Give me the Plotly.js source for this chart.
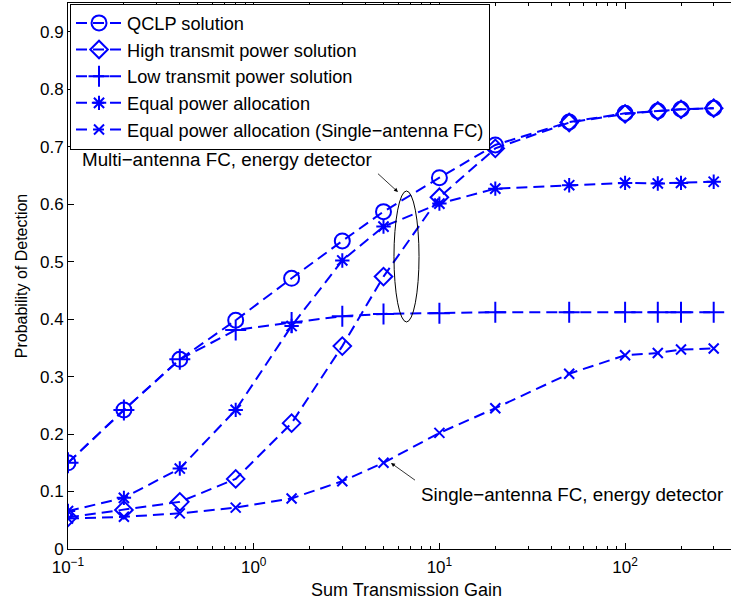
<!DOCTYPE html>
<html>
<head>
<meta charset="utf-8">
<script src="https://cdn.plot.ly/plotly-3.0.1.min.js"></script>
<style>
html,body{margin:0;padding:0;overflow:hidden;background:#fff;}
#chart{width:745px;height:604px;}
</style>
</head>
<body>
<div id="chart"></div>
<script>
// ---- data ----
const gain = [0.1, 0.2, 0.4, 0.8, 1.6, 3, 5, 10, 20, 50, 100, 150, 200, 300];
const qclp = [0.150, 0.242, 0.330, 0.398, 0.471, 0.536, 0.587, 0.646, 0.703, 0.743, 0.758, 0.762, 0.765, 0.767];
const highPower = [0.055, 0.068, 0.082, 0.122, 0.219, 0.353, 0.474, 0.612, 0.697, 0.742, 0.757, 0.762, 0.765, 0.767];
const lowPower = [0.150, 0.242, 0.330, 0.381, 0.394, 0.405, 0.409, 0.410, 0.412, 0.412, 0.412, 0.412, 0.412, 0.412];
const equalPower = [0.066, 0.089, 0.140, 0.242, 0.388, 0.502, 0.561, 0.601, 0.627, 0.633, 0.637, 0.636, 0.637, 0.639];
const equalSingle = [0.053, 0.056, 0.062, 0.072, 0.088, 0.118, 0.150, 0.202, 0.245, 0.305, 0.337, 0.341, 0.347, 0.349];

const seriesNames = [
  'QCLP solution',
  'High transmit power solution',
  'Low transmit power solution',
  'Equal power allocation',
  'Equal power allocation (Single\u2212antenna FC)'
];
const xTickVals = [0.1, 1, 10, 100];
const xTickText = ['10<sup>\u22121</sup>', '10<sup>0</sup>', '10<sup>1</sup>', '10<sup>2</sup>'];
const xTitle = 'Sum Transmission Gain';
const yTitle = 'Probability of Detection';
const note1 = 'Multi\u2212antenna FC, energy detector';
const note2 = 'Single\u2212antenna FC, energy detector';

// ---- styling ----
const BLUE = '#0000ff';
const FONT = 'Liberation Sans, Arial, Helvetica, sans-serif';
const dashPat = '11px,6px';
function tr(y, name, sym, size) {
  return {
    x: gain, y: y, name: name, type: 'scatter', mode: 'lines+markers',
    line: {color: BLUE, width: 2, dash: dashPat},
    marker: {symbol: sym, size: size, color: BLUE, line: {color: BLUE, width: 2}}
  };
}
const data = [
  tr(qclp, seriesNames[0], 'circle-open', 15),
  tr(highPower, seriesNames[1], 'diamond-open', 13.5),
  tr(lowPower, seriesNames[2], 'cross-thin-open', 15),
  tr(equalPower, seriesNames[3], 'asterisk-open', 12),
  tr(equalSingle, seriesNames[4], 'x-thin-open', 10)
];

// minor tick positions (2..9 within each decade)
const minorVals = [];
[0.1, 1, 10, 100].forEach(d => { for (let k = 2; k <= 9; k++) minorVals.push(d * k); });

const layout = {
  width: 745, height: 604,
  margin: {l: 68, r: 0, t: 3, b: 55},
  paper_bgcolor: '#fff', plot_bgcolor: '#fff',
  font: {family: FONT, color: '#000', size: 17},
  showlegend: true,
  legend: {
    x: 0.003, y: 0.999, xanchor: 'left', yanchor: 'top',
    bgcolor: '#fff', bordercolor: '#000', borderwidth: 1,
    font: {family: FONT, size: 18.2, color: '#000'},
    itemwidth: 46, tracegroupgap: 0
  },
  xaxis: {
    type: 'log', range: [-1, 2.6457],
    tickmode: 'array', tickvals: xTickVals, ticktext: xTickText,
    ticks: 'inside', ticklen: 6, tickcolor: '#000', tickwidth: 1,
    ticklabelstandoff: 3,
    showline: true, linecolor: '#000', linewidth: 1, mirror: 'ticks',
    showgrid: false, zeroline: false,
    tickfont: {family: FONT, size: 17, color: '#000'},
    minor: {tickmode: 'array', tickvals: minorVals, ticks: 'inside', ticklen: 3, tickcolor: '#000', showgrid: false},
    title: {text: xTitle, font: {family: FONT, size: 18, color: '#000'}, standoff: 6}
  },
  yaxis: {
    range: [0, 0.95], tick0: 0, dtick: 0.1,
    ticks: 'inside', ticklen: 6, tickcolor: '#000', tickwidth: 1,
    showline: true, linecolor: '#000', linewidth: 1, mirror: 'ticks',
    showgrid: false, zeroline: false,
    tickfont: {family: FONT, size: 17, color: '#000'},
    title: {text: yTitle, font: {family: FONT, size: 16, color: '#000'}, standoff: 8}
  },
  shapes: [
    {type: 'circle', xref: 'paper', yref: 'paper', x0: 0.4815, x1: 0.5185, y0: 0.4158, y1: 0.6557,
     line: {color: '#000', width: 1}}
  ],
  annotations: [
    {xref: 'paper', yref: 'paper', x: 0.0177, y: 0.7125, xanchor: 'left', yanchor: 'middle',
     text: note1, showarrow: false, font: {family: FONT, size: 18.8, color: '#000'}},
    {xref: 'paper', yref: 'paper', x: 0.4874, y: 0.6538, text: ' ', showarrow: true,
     ax: -24, ay: -22, arrowhead: 2, arrowsize: 1, arrowwidth: 0.8, arrowcolor: '#000', standoff: 0},
    {xref: 'paper', yref: 'paper', x: 0.5185, y: 0.1007, xanchor: 'left', yanchor: 'middle',
     text: note2, showarrow: false, font: {family: FONT, size: 18.8, color: '#000'}},
    {xref: 'paper', yref: 'paper', x: 0.4771, y: 0.1575, text: ' ', showarrow: true,
     ax: 28, ay: 20, arrowhead: 2, arrowsize: 1, arrowwidth: 0.8, arrowcolor: '#000', standoff: 0}
  ]
};

Plotly.newPlot('chart', data, layout, {staticPlot: true, displayModeBar: false});
</script>
</body>
</html>
